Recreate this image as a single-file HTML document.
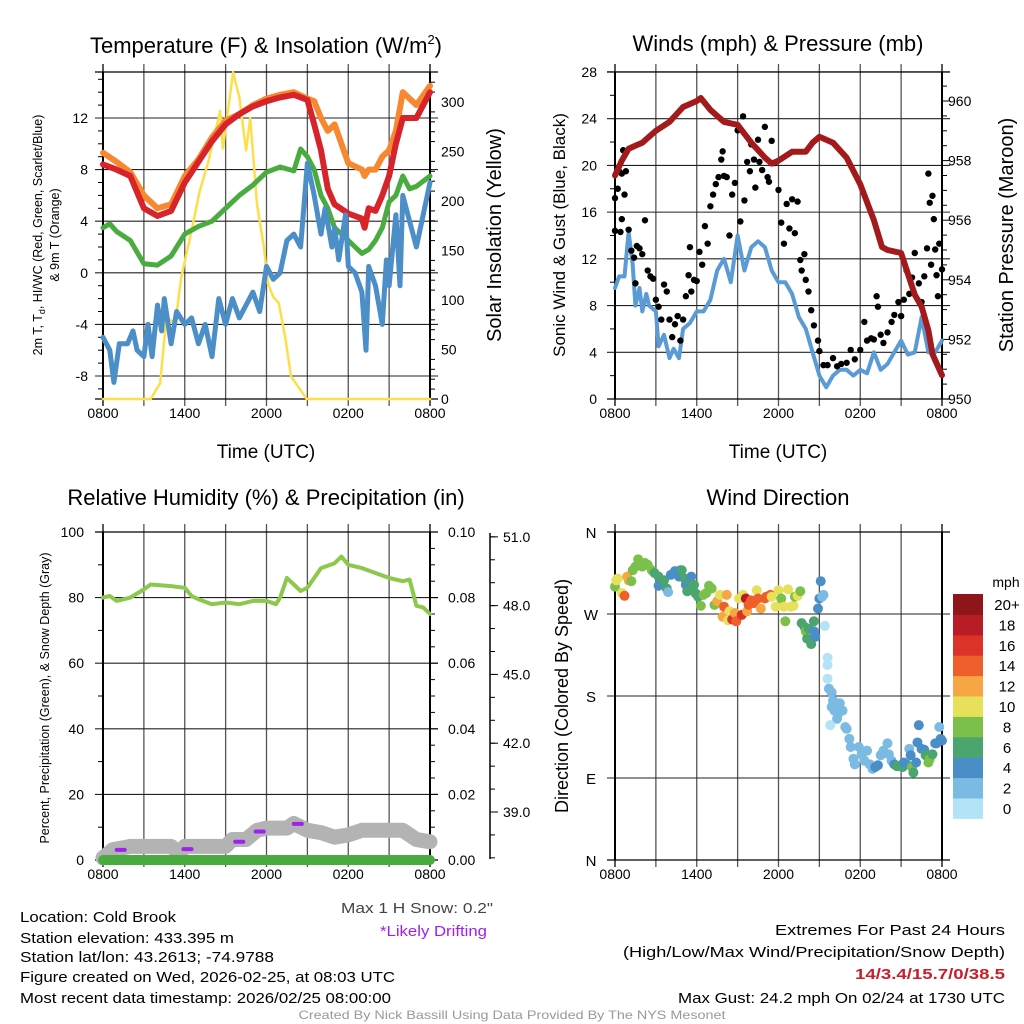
<!DOCTYPE html>
<html><head><meta charset="utf-8"><style>
html,body{margin:0;padding:0;background:#fff;}
svg{display:block;font-family:"Liberation Sans",sans-serif;}
</style></head><body>
<svg id="fig" width="1024" height="1024" viewBox="0 0 1024 1024" xmlns="http://www.w3.org/2000/svg">
<rect width="1024" height="1024" fill="#fff"/>
<g id="g1"></g>
<g id="g2"></g>
<g id="g3"></g>
<g id="g4"></g>
<g font-size="15" fill="#000">
<text x="20" y="922" textLength="156" lengthAdjust="spacingAndGlyphs">Location: Cold Brook</text>
<text x="20" y="943" textLength="214" lengthAdjust="spacingAndGlyphs">Station elevation: 433.395 m</text>
<text x="20" y="962" textLength="254" lengthAdjust="spacingAndGlyphs">Station lat/lon: 43.2613; -74.9788</text>
<text x="20" y="982" textLength="375" lengthAdjust="spacingAndGlyphs">Figure created on Wed, 2026-02-25, at 08:03 UTC</text>
<text x="20" y="1003" textLength="371" lengthAdjust="spacingAndGlyphs">Most recent data timestamp: 2026/02/25 08:00:00</text>
<text x="341" y="913" textLength="152" lengthAdjust="spacingAndGlyphs" fill="#444">Max 1 H Snow: 0.2"</text>
<text x="380" y="936" textLength="107" lengthAdjust="spacingAndGlyphs" fill="#a020f0">*Likely Drifting</text>
<text x="1005" y="935" text-anchor="end" textLength="230" lengthAdjust="spacingAndGlyphs">Extremes For Past 24 Hours</text>
<text x="1005" y="957" text-anchor="end" textLength="382" lengthAdjust="spacingAndGlyphs">(High/Low/Max Wind/Precipitation/Snow Depth)</text>
<text x="1005" y="979" text-anchor="end" textLength="150" lengthAdjust="spacingAndGlyphs" fill="#c8202a" font-weight="bold">14/3.4/15.7/0/38.5</text>
<text x="1005" y="1003" text-anchor="end" textLength="327" lengthAdjust="spacingAndGlyphs">Max Gust: 24.2 mph On 02/24 at 1730 UTC</text>
<text x="512" y="1019" text-anchor="middle" font-size="12" fill="#999" textLength="427" lengthAdjust="spacingAndGlyphs">Created By Nick Bassill Using Data Provided By The NYS Mesonet</text>
</g>
<text x="266" y="53" text-anchor="middle" font-size="22">Temperature (F) &amp; Insolation (W/m<tspan font-size="13" dy="-9">2</tspan><tspan dy="9">)</tspan></text>
<text transform="translate(42,235) rotate(-90)" text-anchor="middle" font-size="12.5">2m T, T<tspan font-size="9" dy="3">d</tspan><tspan dy="-3">, HI/WC (Red, Green, Scarlet/Blue)</tspan></text>
</svg>
<script>
// ---------- data ----------
const xTickLabels = ["0800","1400","2000","0200","0800"];
const tempTicks = [-8,-4,0,4,8,12];
const solarTicks = [0,50,100,150,200,250,300];
const windTicks = [0,4,8,12,16,20,24,28];
const presTicks = [950,952,954,956,958,960];
const rhTicks = [0,20,40,60,80,100];
const precipTicks = ["0.00","0.02","0.04","0.06","0.08","0.10"];
const snowTicks = ["39.0","42.0","45.0","48.0","51.0"];
const dirTicks = ["N","E","S","W","N"];
const speedBins = ["0","2","4","6","8","10","12","14","16","18","20+"];

const tHours = [0,1,2,3,4,5,6,7,8,9,10,11,12,13,14,15,15.5,16,16.5,17,18,19,19.2,19.5,20,20.5,21,21.5,22,23,24];
const tempRed = [8.4,8.0,7.5,5.0,4.4,4.8,7.0,8.6,10.2,11.5,12.3,12.9,13.3,13.6,13.8,13.4,11.5,9.5,6.5,5.3,4.6,4.2,3.5,5.0,4.8,6.0,7.5,10.0,12.0,12.0,14.0];
const tempOrange = [9.3,8.6,7.8,6.0,5.0,5.3,7.5,8.8,10.5,11.8,12.3,13.0,13.5,13.8,14.0,13.5,13.3,12.0,11.0,11.5,8.5,8.0,7.5,8.0,8.0,9.0,9.5,11.0,14.0,13.0,14.5];
const dewHours = [0,0.5,1,2,3,4,5,6,7,8,9,10,11,12,13,14,14.5,15,15.5,16,16.5,17,17.5,18,18.5,19,19.5,20,20.5,21,21.5,22,22.5,23,24];
const dewGreen = [3.5,3.8,3.2,2.5,0.7,0.6,1.3,3.0,3.6,4.0,5.0,6.0,6.8,7.8,8.2,7.9,9.6,9.0,8.0,6.0,5.0,3.5,3.0,2.5,2.0,1.5,1.8,2.5,3.5,5.5,6.0,7.5,6.5,6.7,7.5];
const blueHours = [0,0.5,0.8,1.2,1.8,2.2,2.5,3,3.3,3.6,4,4.3,4.5,5,5.4,6,6.5,7,7.5,8,8.5,9,9.5,10,11,11.5,12,12.5,13,13.5,14,14.5,15,15.5,16,16.3,16.8,17,17.3,17.8,18,18.5,19,19.3,19.5,20,20.5,20.8,21,21.5,21.8,22,22.5,23,23.5,24];
const tempBlue = [-5,-6,-8.5,-5.5,-5.5,-4.5,-6,-6.5,-4,-6.5,-2.5,-4.5,-2,-5.5,-3,-4,-3.5,-5.5,-4,-6.5,-2,-4,-2,-3.5,-1.5,-3,0.5,-0.5,0,2.5,3,2,8.5,6,3,5,2,3.5,1,4.5,0.5,0,-1.5,-6,0.5,-1,-4,1,-1,4.5,-1,6,4,2,4.5,7];
const solarHours = [0,3.5,4.2,4.65,5.3,5.75,6.5,7.1,7.7,8.6,8.8,9.55,10,10.5,10.8,11.3,11.8,12.1,12.5,12.9,13.4,13.8,14.95,24];
const solarVals = [0,0,16,83,76,123,170,210,238,291,253,330,305,251,284,197,154,117,103,97,60,23,0,0];

const windHours = [0,0.3,0.7,1,1.3,1.5,1.8,2,2.3,2.5,3,3.2,3.6,4,4.3,4.7,5,5.5,6,6.5,7,7.5,8,8.5,9,9.5,10,10.5,11,11.5,12,12.5,13,13.5,14,14.5,15,15.5,16,16.5,17,17.5,18,18.5,19,19.5,20,20.5,21,21.5,22,22.5,23,23.5,24];
const windSpeed = [9.5,10.5,10.5,14.3,11.5,8,9.5,7.5,9,8,7.5,4.5,5.5,3.5,4.3,3.5,6,6.5,7.5,7.5,8.5,11,12,10,14,11,13,13.5,13,11,10,10,9,7,6,4,2,1,2,2.5,2.5,2,2.5,2.2,4,2.5,3,4,5,3.8,4,7,4,4,5];
const gustHours = [0,0,0.2,0.3,0.5,0.6,0.7,0.8,0.5,0.4,1,1.2,1.4,1.5,1.6,1.8,2,2.2,2.4,2.6,2.8,3,3.2,3.4,3.6,3.8,4,4.2,4.4,4.6,4.8,5,5.2,5.4,5.5,5.6,5.8,6,6.2,6.4,6.6,6.8,7,7.2,7.4,7.6,7.8,7.9,8,8.2,8.4,8.6,8.8,9,9.2,9.4,9.5,9.7,9.9,10,10.2,10.3,10.5,10.6,10.8,11,11.2,11.3,11.5,11.7,12,12.2,12.4,12.6,12.8,13,13.2,13.4,13.6,13.7,13.9,14,14.2,14.4,14.6,14.9,15,15.3,15.6,16,16.3,16.6,17,17.3,17.6,18,18.3,18.5,18.8,19,19.2,19.3,19.5,19.7,20,20.3,20.5,20.8,21,21.2,21.4,21.6,21.8,22,22.3,22.5,22.7,22.9,23,23.1,23.2,23.3,23.4,23.5,23.6,23.7,23.8,24];
const gustSpeed = [14.4,17.2,18,19.5,19.3,21.3,17.5,19.5,15.4,14.3,14.5,12.7,12.1,9.9,13.1,12.9,12.4,15.3,11,10.5,10.3,8.5,7.9,6.8,9.8,9.2,6.8,5.3,6.4,7.1,5,6.8,8.8,10.6,13,9.2,10.2,10.1,12.6,11.5,14.8,13.3,16.5,17.5,18.4,19,20.5,21.2,19.1,19,14,17.5,18.5,23,15.2,24.2,17,20.3,19.5,21.8,20.5,18.1,22.2,20.3,19.6,23.3,19,18.6,22.1,20.2,17.9,15.1,13.3,16.7,14.6,17.1,14.2,16.9,11.9,11,12.4,10.2,9.2,7.6,6.3,5,4.1,2.9,2.9,3.5,2.8,3,3.1,4.2,3.4,4.2,6.6,5,5.2,5.1,8.8,7.9,5.5,4.8,5.7,6.6,7.2,8.3,7.1,8.5,11,9,10.4,12.5,9.9,8.3,10.5,12.9,19.3,16.8,11.5,17.4,15.4,12.8,10.6,8.8,13.3,11.1];
const presHours = [0,0.5,1,2,3,4,5,6,6.3,7,8,9,10,11,11.5,12,13,14,14.5,15,16,17,18,19,19.6,20,21,21.5,22,22.5,23,23.3,24];
const pressure = [957.5,958,958.4,958.6,959,959.3,959.8,960,960.1,959.7,959.3,959.2,958.6,958.1,957.9,958,958.3,958.3,958.6,958.8,958.6,958.1,957.2,956,955.1,955,954.9,954.2,953.5,953.1,952.3,951.5,950.8];

const rhHours = [0,0.5,1,2,3,3.5,5,6,6.5,7,8,9,10,11,12,12.7,13,13.5,14,14.5,15,15.5,16,17,17.5,18,19,20,21,22,22.5,23,23.5,24];
const rhVals = [80,80.5,79,80,82.5,84,83.5,83,80.5,79.5,78,78.5,78,79,79,78,80,86,84,82,83,86,89,90.5,92.5,90,89,87.5,86,85,85.5,77.5,77,75];
const snowHours = [0,0.7,2,5,5.6,6,9,9.5,10.5,11.3,12,13.5,14,15,16,17,18,19,22,23,24];
const snowDepth = [37.0,37.35,37.5,37.5,37.2,37.5,37.5,37.8,37.8,38.2,38.3,38.3,38.5,38.2,38.1,37.9,38.0,38.2,38.2,37.8,37.7];
const driftHours = [1.3,6.2,10.0,11.5,14.3];
const driftDepth = [37.35,37.38,37.7,38.15,38.48];
const precipHours = [0,24];
const precipVals = [0,0];

const dirHours = [0.0,0.1,0.2,0.5,0.7,0.9,1.0,1.2,1.3,1.5,1.7,1.8,2.0,2.2,2.4,2.7,2.9,3.2,3.2,3.6,3.8,3.9,4.1,4.4,4.7,4.8,4.9,5.1,5.2,5.3,5.5,5.6,5.8,5.9,6.1,6.3,6.5,6.7,6.9,7.1,7.3,7.5,7.7,7.9,8.0,8.2,8.3,8.4,8.6,8.8,8.9,9.1,9.3,9.4,9.6,9.7,9.8,10.0,10.2,10.4,10.5,10.7,11.0,11.1,11.4,11.5,11.8,12.0,12.2,12.4,12.5,12.7,12.9,13.1,13.2,13.4,13.6,13.7,13.9,14.0,14.1,14.2,14.4,14.6,14.6,14.7,14.9,15.0,15.1,15.2,15.3,15.4,15.6,15.6,15.6,15.7,15.9,16.0,15.9,16.1,16.3,16.4,16.5,16.7,15.8,16.9,17.0,17.2,17.3,17.5,17.6,17.9,18.1,18.3,18.5,18.7,18.9,19.1,19.3,19.5,19.7,20.0,20.1,20.3,20.5,20.7,20.9,21.1,21.2,21.4,21.6,21.7,21.8,21.9,22.1,22.2,22.3,22.5,22.7,22.8,23.0,23.1,23.3,23.5,23.6,23.8,23.9,24.0];
const dirDeg = [300,307,309,293,290,311,307,306,318,322,330,324,322,326,324,318,315,311,301,307,298,294,313,317,311,318,318,309,302,295,307,311,302,293,289,279,291,293,301,298,280,284,291,267,278,291,263,273,264,271,262,287,269,291,287,273,280,285,282,296,287,276,287,289,291,289,278,296,287,278,262,297,278,279,289,290,295,260,256,251,243,254,237,251,262,245,276,287,306,289,291,257,214,222,199,188,184,175,168,164,155,161,172,164,148,146,144,133,124,111,105,124,116,109,120,105,100,102,104,115,120,128,116,109,105,103,103,102,107,105,122,115,102,96,107,129,148,122,121,115,107,111,116,128,128,146,133,131];
const dirSpeed = [8,10,10,10,14,12,12,8,8,8,8,8,8,8,8,8,6,6,4,6,6,2,4,4,4,4,6,6,4,6,6,4,6,6,6,8,8,8,8,8,8,12,10,12,14,12,10,10,16,12,14,10,16,10,18,12,14,14,14,10,14,12,14,14,14,10,10,10,8,10,8,10,10,10,8,10,8,6,6,8,6,6,6,4,6,4,4,4,4,2,2,0,0,0,0,2,2,2,2,2,2,2,2,2,0,2,2,2,2,2,2,2,2,2,2,2,2,4,4,2,2,2,2,2,4,6,6,6,4,4,2,4,8,6,4,4,4,4,4,6,8,8,6,4,4,2,4,4];
const binColors = ["#b3e3f6","#7bbae3","#4a8ec8","#4aa56e","#7bc04a","#e6e05a","#f6a643","#ee5f2b","#dc3228","#b81c24","#8e1519"];

// ---------- helpers ----------
const NS = "http://www.w3.org/2000/svg";
function mk(parent, tag, attrs, name) {
  const el = document.createElementNS(NS, tag);
  for (const k in attrs) el.setAttribute(k, attrs[k]);
  
  
  parent.appendChild(el);
  return el;
}
function txt(parent, x, y, s, size, anchor, name, extra) {
  const el = mk(parent, 'text', Object.assign({x:x, y:y, 'font-size':size, 'text-anchor':anchor||'start', fill:'#000'}, extra||{}), name);
  el.textContent = s;
  return el;
}
function poly(parent, xs, ys, sx, sy, color, w, name) {
  let d = "";
  for (let i = 0; i < xs.length; i++) d += (i ? "L" : "M") + sx(xs[i]).toFixed(1) + "," + sy(ys[i]).toFixed(1);
  return mk(parent, 'path', {d:d, fill:'none', stroke:color, 'stroke-width':w, 'stroke-linejoin':'round', 'stroke-linecap':'round'}, name);
}
function frame(g, L, R, T, B, hLines, name) {
  for (let i = 0; i <= 8; i++) {
    const x = L + i * (R - L) / 8;
    mk(g, 'line', {x1:x, y1:T - 8, x2:x, y2:B + 7, stroke: (i===0||i===8)?'#000':'#555', 'stroke-width':1.3}, 'time-gridline');
  }
  hLines.forEach(y => { mk(g, 'line', {x1:L - 8, y1:y, x2:R + 8, y2:y, stroke:'#222', 'stroke-width':1.1}, 'value-gridline'); });
  mk(g, 'line', {x1:L, y1:T, x2:L, y2:B, stroke:'#000', 'stroke-width':2}, name + '-left-axis');
  mk(g, 'line', {x1:R, y1:T, x2:R, y2:B, stroke:'#000', 'stroke-width':2}, name + '-right-axis');
  mk(g, 'line', {x1:L - 8, y1:T, x2:R + 8, y2:T, stroke:'#000', 'stroke-width':1.2}, name + '-top-axis');
  mk(g, 'line', {x1:L - 8, y1:B, x2:R + 8, y2:B, stroke:'#000', 'stroke-width':1.2}, name + '-bottom-axis');
  xTickLabels.forEach((s, i) => { txt(g, L + i * (R - L) / 4, B + 19, s, 14, 'middle', 'x-tick-label'); });
}
function minor(g, x, ys, dir, name) {
  ys.forEach(y => { mk(g, 'line', {x1:x, y1:y, x2:x + dir * 5, y2:y, stroke:'#000', 'stroke-width':1}, name); });
}
function hx(L, R) { return h => L + h / 24 * (R - L); }

// ---------- panel 1: temperature ----------
(function(){
  const g = document.getElementById('g1');
  const L = 103, R = 430, T = 72, B = 399;
  const sx = hx(L, R);
  const ty = v => 376 - (v + 8) * 12.9;
  const sy = v => 399 - v * 0.99;
  frame(g, L, R, T, B, tempTicks.map(ty), 'temp');
  const mt = []; for (let v = -9; v <= 15; v++) if (v % 4 !== 0) mt.push(ty(v));
  minor(g, L, mt, -1, 'temp-minor-tick');
  const ms = []; for (let v = 10; v <= 320; v += 10) if (v % 50 !== 0) ms.push(sy(v));
  minor(g, R, ms, 1, 'solar-minor-tick');
  tempTicks.forEach(v => txt(g, 88, ty(v) + 5, String(v), 14, 'end', 'temp-tick-label'));
  solarTicks.forEach(v => txt(g, 441, sy(v) + 5, String(v), 14, 'start', 'solar-tick-label'));
  poly(g, solarHours, solarVals, sx, sy, '#fbe04a', 2.5, 'solar-insolation-line');
  poly(g, tHours, tempOrange, sx, ty, '#f7882f', 6, 'temp-9m-line');
  poly(g, tHours, tempRed, sx, ty, '#d7242a', 6, 'temp-2m-line');
  poly(g, dewHours, dewGreen, sx, ty, '#4aac3f', 5, 'dewpoint-line');
  poly(g, blueHours, tempBlue, sx, ty, '#4b8ec8', 5, 'wind-chill-line');
  txt(g, 0, 0, '& 9m T (Orange)', 12.5, 'middle', 'temp-y-axis-title-2', {transform:'translate(59,235) rotate(-90)'});
  txt(g, 0, 0, 'Solar Insolation (Yellow)', 20, 'middle', 'solar-y-axis-title', {transform:'translate(501,235) rotate(-90)'});
  txt(g, 266, 458, 'Time (UTC)', 19, 'middle', 'temp-x-axis-title');
})();

// ---------- panel 2: winds ----------
(function(){
  const g = document.getElementById('g2');
  const L = 615, R = 942, T = 72, B = 399;
  const sx = hx(L, R);
  const wy = v => 399 - v * 11.68;
  const py = p => 399 - (p - 950) * 29.8;
  frame(g, L, R, T, B, windTicks.map(wy), 'wind');
  const mw = []; for (let v = 2; v < 28; v += 4) mw.push(wy(v));
  minor(g, L, mw, -1, 'wind-minor-tick');
  const mp = []; for (let p = 950.5; p < 961; p += 0.5) if (p % 2 !== 0) mp.push(py(p));
  minor(g, R, mp, 1, 'pressure-minor-tick');
  windTicks.forEach(v => txt(g, 597, wy(v) + 5, String(v), 14, 'end', 'wind-tick-label'));
  presTicks.forEach(v => { mk(g, 'line', {x1:R, y1:py(v), x2:R + 8, y2:py(v), stroke:'#000', 'stroke-width':1}, 'pressure-major-tick'); txt(g, 948, py(v) + 5, String(v), 14, 'start', 'pressure-tick-label'); });
  poly(g, windHours, windSpeed, sx, wy, '#5a9bd5', 4, 'sonic-wind-line');
  gustHours.forEach((h, i) => { mk(g, 'circle', {cx:sx(h), cy:wy(gustSpeed[i]), r:3.2, fill:'#000'}, 'gust-point'); });
  poly(g, presHours, pressure, sx, py, '#a31a1c', 6, 'pressure-line');
  txt(g, 778, 51, 'Winds (mph) & Pressure (mb)', 22, 'middle', 'winds-panel-title');
  txt(g, 0, 0, 'Sonic Wind & Gust (Blue, Black)', 17, 'middle', 'wind-y-axis-title', {transform:'translate(565,235) rotate(-90)'});
  txt(g, 0, 0, 'Station Pressure (Maroon)', 20, 'middle', 'pressure-y-axis-title', {transform:'translate(1013,235) rotate(-90)'});
  txt(g, 778, 458, 'Time (UTC)', 19, 'middle', 'wind-x-axis-title');
})();

// ---------- panel 3: humidity ----------
(function(){
  const g = document.getElementById('g3');
  const L = 103, R = 430, T = 532, B = 860;
  const sx = hx(L, R);
  const ry = v => 860 - v * 3.28;
  const pry = v => 860 - v * 3280;
  const sny = v => 812 - (v - 39) * 22.93;
  frame(g, L, R, T, B, rhTicks.map(ry), 'rh');
  const mr = []; for (let v = 10; v < 100; v += 20) mr.push(ry(v));
  minor(g, L, mr, -1, 'rh-minor-tick');
  const mpr = []; for (let v = 5; v < 100; v += 5) if (v % 20 !== 0) mpr.push(ry(v));
  minor(g, R, mpr, 1, 'precip-minor-tick');
  rhTicks.forEach(v => txt(g, 84, ry(v) + 5, String(v), 14, 'end', 'rh-tick-label'));
  precipTicks.forEach((s, i) => { mk(g, 'line', {x1:R, y1:pry(parseFloat(s)), x2:R + 8, y2:pry(parseFloat(s)), stroke:'#000', 'stroke-width':1}, 'precip-major-tick'); txt(g, 448, pry(parseFloat(s)) + 5, s, 14, 'start', 'precip-tick-label'); });
  mk(g, 'line', {x1:490, y1:533, x2:490, y2:859, stroke:'#000', 'stroke-width':1.5}, 'snow-depth-axis');
  const ms = []; for (let v = 37; v <= 51.5; v += 1) ms.push(sny(v));
  minor(g, 490, ms, 1, 'snow-minor-tick');
  snowTicks.forEach(s => { mk(g, 'line', {x1:490, y1:sny(parseFloat(s)), x2:498, y2:sny(parseFloat(s)), stroke:'#000', 'stroke-width':1}, 'snow-major-tick'); txt(g, 503, sny(parseFloat(s)) + 5, s, 14, 'start', 'snow-tick-label'); });
  poly(g, snowHours, snowDepth, sx, sny, '#b3b3b3', 15, 'snow-depth-line');
  driftHours.forEach((h, i) => { mk(g, 'line', {x1:sx(h) - 4, y1:sny(driftDepth[i]), x2:sx(h) + 4, y2:sny(driftDepth[i]), stroke:'#a020f0', 'stroke-width':4, 'stroke-linecap':'round'}, 'drifting-mark'); });
  poly(g, precipHours, precipVals, sx, pry, '#4aac3f', 10, 'precip-line');
  poly(g, rhHours, rhVals, sx, ry, '#8cc84b', 4, 'rh-line');
  txt(g, 266, 505, 'Relative Humidity (%) & Precipitation (in)', 22, 'middle', 'rh-panel-title');
  txt(g, 0, 0, 'Percent, Precipitation (Green), & Snow Depth (Gray)', 12.5, 'middle', 'rh-y-axis-title', {transform:'translate(49,698) rotate(-90)'});
})();

// ---------- panel 4: wind direction ----------
(function(){
  const g = document.getElementById('g4');
  const L = 615, R = 942, T = 532, B = 860;
  const sx = hx(L, R);
  const dy = d => 860 - d / 360 * 328;
  frame(g, L, R, T, B, [0,90,180,270,360].map(dy), 'dir');
  dirTicks.forEach((s, i) => txt(g, 591, dy(i * 90) + 6, s, 15, 'middle', 'direction-tick-label'));
  dirHours.forEach((h, i) => {
    const bin = Math.min(10, Math.round(dirSpeed[i] / 2));
    mk(g, 'circle', {cx:sx(h), cy:dy(dirDeg[i]), r:5, fill:binColors[bin]}, 'direction-point');
  });
  txt(g, 778, 505, 'Wind Direction', 22, 'middle', 'direction-panel-title');
  txt(g, 0, 0, 'Direction (Colored By Speed)', 18, 'middle', 'direction-y-axis-title', {transform:'translate(568,696) rotate(-90)'});
  const cbTop = 594, cbH = 20.4;
  speedBins.forEach((s, i) => {
    const k = 10 - i;
    mk(g, 'rect', {x:953, y:cbTop + k * cbH, width:30, height:cbH + 0.5, fill:binColors[i]}, 'colorbar-swatch');
    txt(g, 1007, cbTop + k * cbH + 16, s, 15, 'middle', 'colorbar-label');
  });
  txt(g, 1006, 587, 'mph', 14, 'middle', 'colorbar-title');
})();
</script>
</body></html>
